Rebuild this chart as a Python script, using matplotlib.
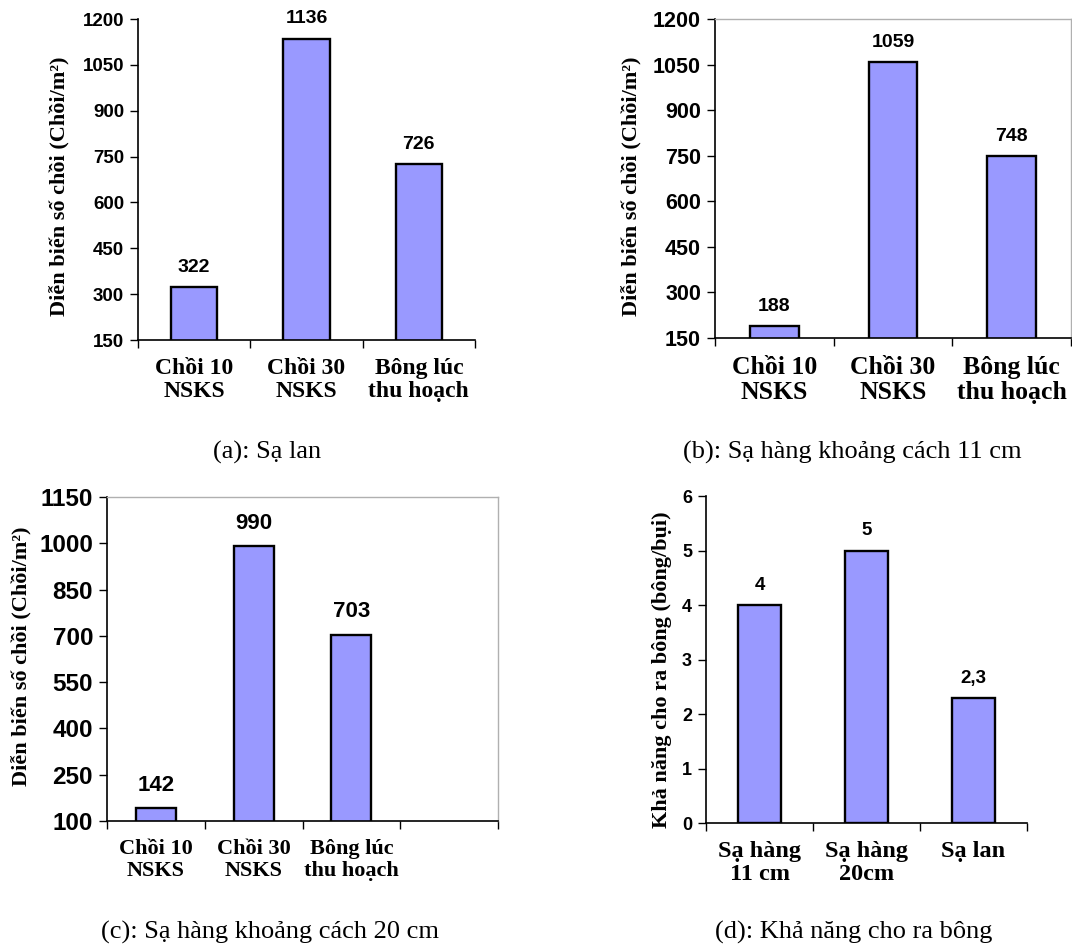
"""
Four bar charts: tiller counts by sowing method (a-c) and panicles per hill (d).
"""

import matplotlib
matplotlib.use('Agg')
import matplotlib.pyplot as plt
import numpy as np

# -----------------------------------------------------
# Data

stageLabels = ['Chồi 10\nNSKS', 'Chồi 30\nNSKS', 'Bông lúc\nthu hoạch']
tillersBroadcast = [322, 1136, 726]       # (a) Sạ lan
tillersRow11 = [188, 1059, 748]           # (b) Sạ hàng 11 cm
tillersRow20 = [142, 990, 703]            # (c) Sạ hàng 20 cm

methodLabels = ['Sạ hàng\n11 cm', 'Sạ hàng\n20cm', 'Sạ lan']
panicles = [4, 5, 2.3]                    # (d)
panicleText = ['4', '5', '2,3']

tillerYLabel = 'Diễn biến số chồi (Chồi/m²)'
panicleYLabel = 'Khả năng cho ra bông (bông/bụi)'

captions = ['(a): Sạ lan', '(b): Sạ hàng khoảng cách 11 cm',
            '(c): Sạ hàng khoảng cách 20 cm', '(d): Khả năng cho ra bông']

# -----------------------------------------------------
# Style

W, H = 1072, 947
barColor = '#9999ff'
sansBold = dict(family='Liberation Sans', weight='bold')
serifBold = dict(family='Liberation Serif', weight='bold')

fig = plt.figure(figsize=(W / 100, H / 100), dpi=100)


def axesAt(left, top, right, bottom):
    """Make axes from pixel edges measured from the top-left corner."""
    return fig.add_axes([left / W, 1 - bottom / H, (right - left) / W, (bottom - top) / H])


def drawBars(ax, labels, values, texts, nSlots, ylim, ticks, tickSize, valueSize, catSize,
             ylabel, labelSize, labelPad, boxed):
    x = np.arange(len(values))
    bars = ax.bar(x, values, width=0.41, color=barColor, edgecolor='black', linewidth=1.7, zorder=2)
    ax.bar_label(bars, labels=texts, padding=labelPad, fontsize=valueSize, **sansBold)

    ax.set_xlim(-0.5, nSlots - 0.5)
    ax.set_ylim(*ylim)
    ax.set_yticks(ticks)
    ax.set_yticklabels([str(t) for t in ticks], fontsize=tickSize, **sansBold)
    ax.tick_params(axis='y', direction='out', length=6, width=1, pad=4)

    # category boundaries carry the tick marks, centers carry the names
    ax.set_xticks(np.arange(nSlots + 1) - 0.5)
    ax.set_xticklabels([])
    ax.tick_params(axis='x', which='major', direction='out', length=6, width=1)
    ax.set_xticks(x, minor=True)
    ax.set_xticklabels(labels, minor=True, fontsize=catSize, linespacing=1.12, **serifBold)
    ax.tick_params(axis='x', which='minor', length=0, pad=13)

    for s in ['left', 'bottom']:
        ax.spines[s].set_color('black')
        ax.spines[s].set_linewidth(1.2)
    if boxed:
        for s in ['top', 'right']:
            ax.spines[s].set_color('#b0b0b0')
            ax.spines[s].set_linewidth(1.0)
    else:
        ax.spines['top'].set_visible(False)
        ax.spines['right'].set_visible(False)

    ax.set_ylabel(ylabel, fontsize=labelSize, **serifBold)
    return ax


def placeYLabel(ax, rightPx, centerPx):
    ax.yaxis.set_label_coords(rightPx / W, 1 - centerPx / H, transform=fig.transFigure)


axA = axesAt(138, 19, 475, 340)
drawBars(axA, stageLabels, tillersBroadcast, [str(v) for v in tillersBroadcast], 3,
         (150, 1200), list(range(150, 1201, 150)), 13.5, 14, 17, tillerYLabel, 16, 8, False)
placeYLabel(axA, 70, 186)

axB = axesAt(715, 19, 1071, 338)
drawBars(axB, stageLabels, tillersRow11, [str(v) for v in tillersRow11], 3,
         (150, 1200), list(range(150, 1201, 150)), 15.5, 14, 18.5, tillerYLabel, 16, 8, True)
placeYLabel(axB, 642, 186)

axC = axesAt(107, 497, 498, 821)
drawBars(axC, stageLabels, tillersRow20, [str(v) for v in tillersRow20], 4,
         (100, 1150), list(range(100, 1151, 150)), 17.5, 16, 16, tillerYLabel, 16, 9, True)
placeYLabel(axC, 32, 656)

axD = axesAt(706, 496, 1027, 823)
drawBars(axD, methodLabels, panicles, panicleText, 3,
         (0, 6), list(range(0, 7)), 13, 13.5, 17.5, panicleYLabel, 16, 8, False)
placeYLabel(axD, 672, 670)

# captions under each panel
for (cx, cy), txt in zip([(267, 452), (852, 452), (270, 932), (854, 932)], captions):
    fig.text(cx / W, 1 - cy / H, txt, ha='center', va='center', fontsize=19, family='Liberation Serif')

fig.savefig('out.png', dpi=100)
